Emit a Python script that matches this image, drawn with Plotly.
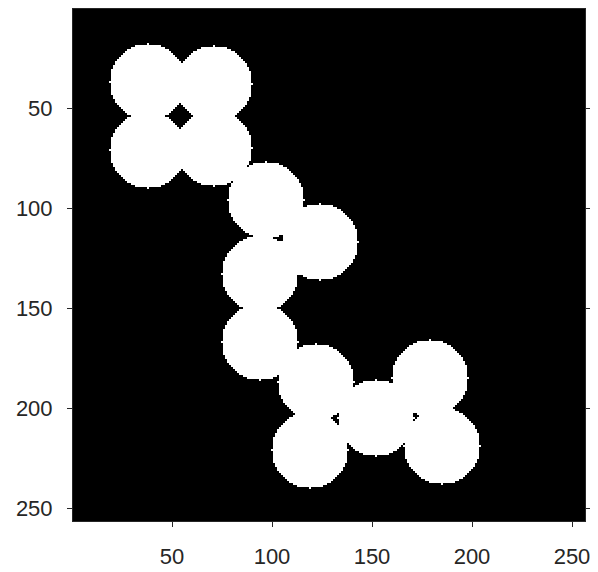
import numpy as np
import plotly.graph_objects as go

# Circle centres (column x, row y) in image pixel coordinates, and radius
circle_x = [38, 71, 38, 71, 97, 124, 94, 94, 122, 119, 152, 179, 185]
circle_y = [37, 38, 71, 70, 96, 117, 133, 167, 187, 221, 205, 185, 219]
radius = 19
img_size = 256
tick_vals = [50, 100, 150, 200, 250]

cols = np.arange(1, img_size + 1)
rows = np.arange(1, img_size + 1)
X, Y = np.meshgrid(cols, rows)
img = np.zeros((img_size, img_size), dtype=int)
for cx, cy in zip(circle_x, circle_y):
    img[(X - cx) ** 2 + (Y - cy) ** 2 <= radius ** 2] = 1

fig = go.Figure(go.Heatmap(
    z=img, x=cols, y=rows,
    colorscale=[[0, "#000000"], [1, "#ffffff"]],
    zmin=0, zmax=1, showscale=False, zsmooth=False, hoverinfo="skip",
))

axis_common = dict(
    showgrid=False, zeroline=False, showline=True, linecolor="#262626",
    linewidth=1, mirror="ticks", ticks="outside", ticklen=5, tickwidth=1,
    tickcolor="#262626", tickvals=tick_vals, automargin=False,
    tickfont=dict(family="Liberation Sans, Arial, sans-serif", size=22, color="#262626"),
)
fig.update_xaxes(range=[0.5, img_size + 0.5], ticklabelstandoff=11, **axis_common)
fig.update_yaxes(range=[img_size + 0.5, 0.5], ticklabelstandoff=10, **axis_common)

# page body has an 8px default margin, so the figure is sized to fit
fig.update_layout(
    width=590, height=564,
    margin=dict(l=65, r=13, t=1, b=51),
    paper_bgcolor="white", plot_bgcolor="black",
)

fig.write_html("out.html")
